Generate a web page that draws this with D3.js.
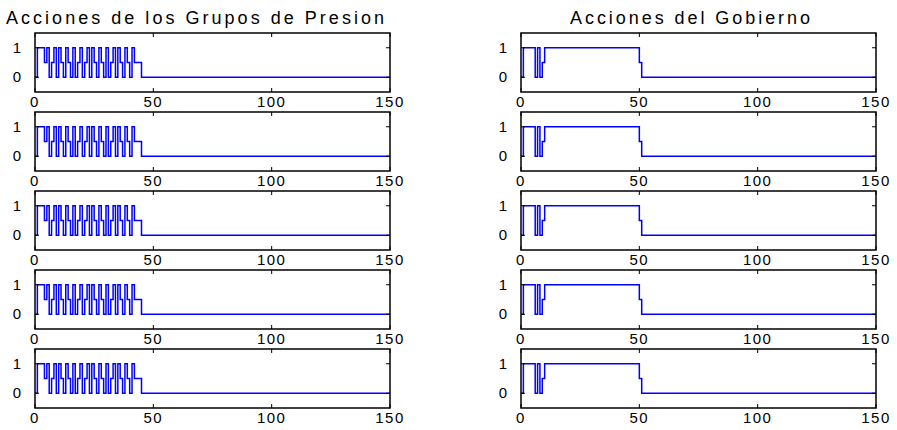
<!DOCTYPE html>
<html>
<head>
<meta charset="utf-8">
<script src="https://cdn.jsdelivr.net/npm/d3@7"></script>
<style>
	body { margin: 0; background: #fff; }
	svg text { font-family: Arial, "Liberation Sans", sans-serif; fill: #000; }
</style>
</head>
<body>
<svg id="chart" width="897" height="430"></svg>
<script>
var titles = ["Acciones de los Grupos de Presion", "Acciones del Gobierno"];
var titleWidths = [378, 240];
var xTicks = [0, 50, 100, 150];
var yTicks = [0, 1];
var rows = 5;

// t = 0..150, one value per step
var presion = [0, 1, 1, 1, 0.5, 1, 0, 0.5, 1, 0, 1, 0.5, 0, 1, 0.5, 0, 1, 0, 0.5, 1,
	0, 0.5, 1, 0, 1, 0.5, 0, 1, 0.5, 0, 1, 0, 0.5, 1, 0, 1, 0.5, 0, 1, 0.5,
	0, 1, 0.5, 0.5, 0.5, 0, 0, 0, 0, 0, 0, 0, 0, 0, 0, 0, 0, 0, 0, 0,
	0, 0, 0, 0, 0, 0, 0, 0, 0, 0, 0, 0, 0, 0, 0, 0, 0, 0, 0, 0,
	0, 0, 0, 0, 0, 0, 0, 0, 0, 0, 0, 0, 0, 0, 0, 0, 0, 0, 0, 0,
	0, 0, 0, 0, 0, 0, 0, 0, 0, 0, 0, 0, 0, 0, 0, 0, 0, 0, 0, 0,
	0, 0, 0, 0, 0, 0, 0, 0, 0, 0, 0, 0, 0, 0, 0, 0, 0, 0, 0, 0,
	0, 0, 0, 0, 0, 0, 0, 0, 0, 0, 0];
var gobierno = [0, 1, 1, 1, 1, 1, 0, 1, 0, 0.5, 1, 1, 1, 1, 1, 1, 1, 1, 1, 1,
	1, 1, 1, 1, 1, 1, 1, 1, 1, 1, 1, 1, 1, 1, 1, 1, 1, 1, 1, 1,
	1, 1, 1, 1, 1, 1, 1, 1, 1, 1, 0.5, 0, 0, 0, 0, 0, 0, 0, 0, 0,
	0, 0, 0, 0, 0, 0, 0, 0, 0, 0, 0, 0, 0, 0, 0, 0, 0, 0, 0, 0,
	0, 0, 0, 0, 0, 0, 0, 0, 0, 0, 0, 0, 0, 0, 0, 0, 0, 0, 0, 0,
	0, 0, 0, 0, 0, 0, 0, 0, 0, 0, 0, 0, 0, 0, 0, 0, 0, 0, 0, 0,
	0, 0, 0, 0, 0, 0, 0, 0, 0, 0, 0, 0, 0, 0, 0, 0, 0, 0, 0, 0,
	0, 0, 0, 0, 0, 0, 0, 0, 0, 0, 0];
var series = [presion, gobierno];

var svg = d3.select("#chart");
var colLeft = [35, 521];
var colWidth = 355;
var rowTop = 33, rowStep = 79, plotH = 59;
var titleCenter = [195, 690];

for (var c = 0; c < 2; c++) {
	var x = d3.scaleLinear().domain([0, 150]).range([colLeft[c], colLeft[c] + colWidth]);
	svg.append("text")
		.attr("x", titleCenter[c]).attr("y", 24)
		.attr("text-anchor", "middle")
		.attr("textLength", titleWidths[c]).attr("lengthAdjust", "spacing")
		.style("font-size", "18px")
		.text(titles[c]);
	for (var r = 0; r < rows; r++) {
		drawPanel(x, rowTop + r * rowStep, series[c]);
	}
}

function drawPanel(x, top, values) {
	var y = d3.scaleLinear().domain([-0.5, 1.5]).range([top + plotH, top]);
	var g = svg.append("g");
	var x0 = x.range()[0], x1 = x.range()[1];

	g.append("path")
		.attr("fill", "none").attr("stroke", "#0000ff").attr("stroke-width", 1.5)
		.attr("d", d3.line().curve(d3.curveStepAfter)
			.x(function(d, i) { return x(i); }).y(function(d) { return y(d); })(values));

	g.append("rect")
		.attr("x", x0).attr("y", top).attr("width", x1 - x0).attr("height", plotH)
		.attr("fill", "none").attr("stroke", "#000").attr("stroke-width", 1.5);

	xTicks.forEach(function(t) {
		g.append("line").attr("x1", x(t)).attr("x2", x(t)).attr("y1", top + plotH).attr("y2", top + plotH - 4)
			.attr("stroke", "#000");
		g.append("line").attr("x1", x(t)).attr("x2", x(t)).attr("y1", top).attr("y2", top + 4)
			.attr("stroke", "#000");
		g.append("text").attr("x", x(t)).attr("y", top + plotH + 15)
			.attr("text-anchor", "middle")
			.style("font-size", "15px").style("letter-spacing", "1.5px")
			.text(t);
	});
	yTicks.forEach(function(t) {
		g.append("line").attr("x1", x0).attr("x2", x0 + 4).attr("y1", y(t)).attr("y2", y(t))
			.attr("stroke", "#000");
		g.append("line").attr("x1", x1).attr("x2", x1 - 4).attr("y1", y(t)).attr("y2", y(t))
			.attr("stroke", "#000");
		g.append("text").attr("x", x0 - 14).attr("y", y(t) + 5)
			.attr("text-anchor", "end")
			.style("font-size", "15px")
			.text(t);
	});
}
</script>
</body>
</html>
